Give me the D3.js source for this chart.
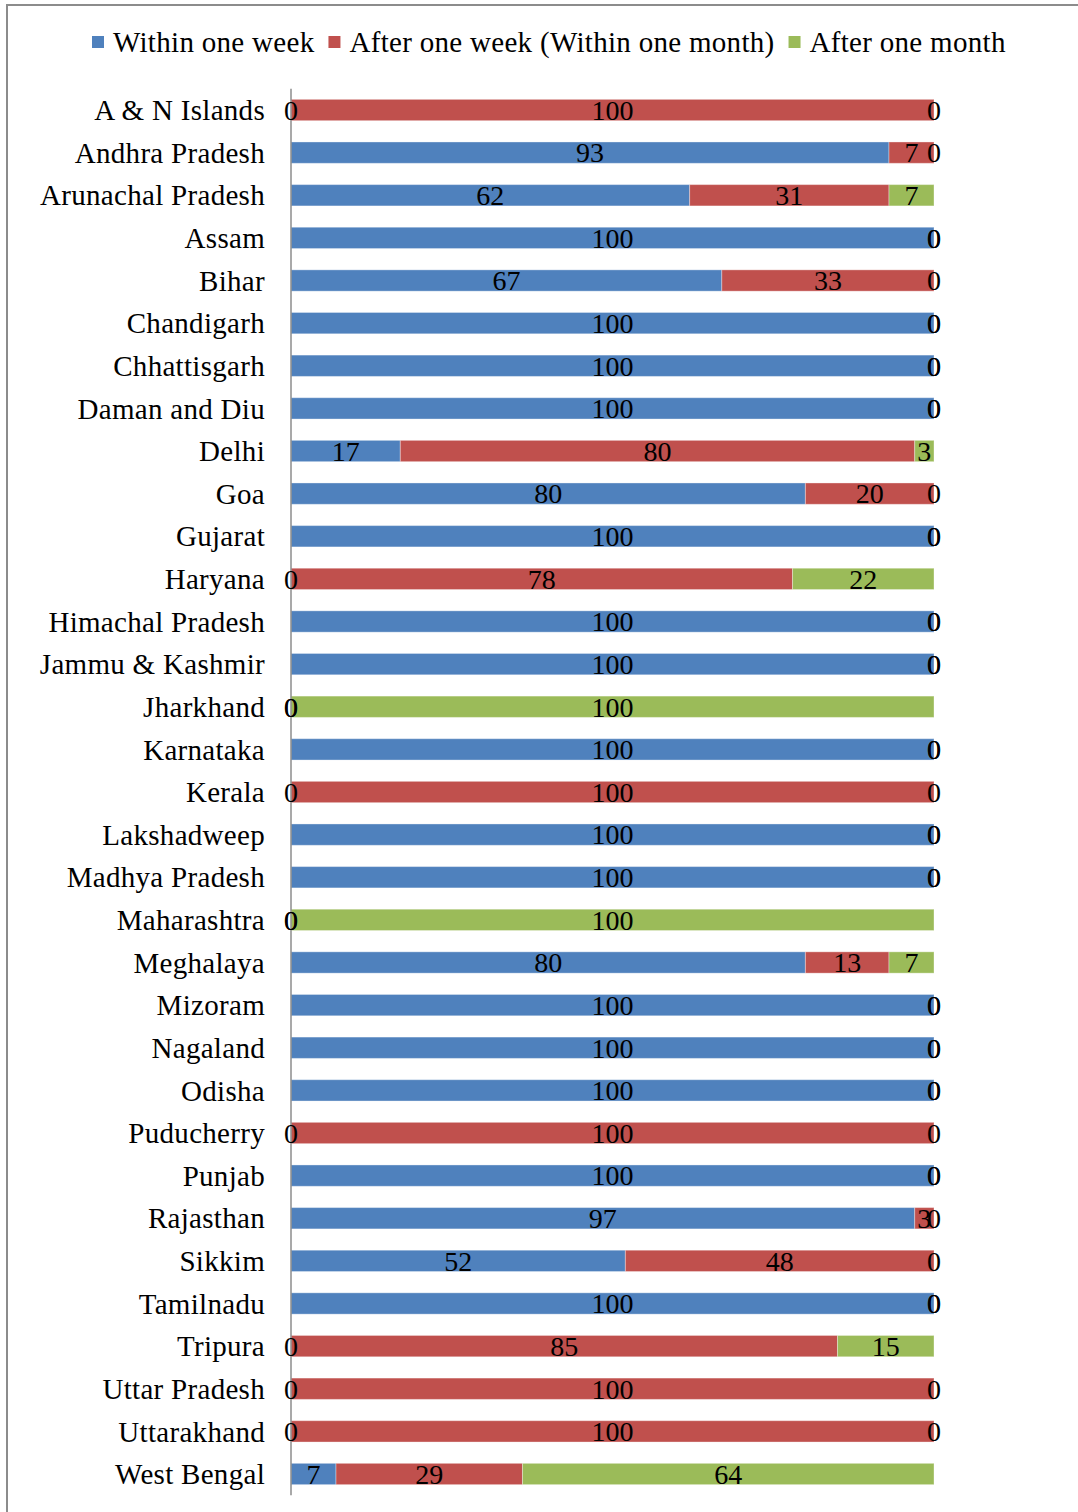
<!DOCTYPE html>
<html>
<head>
<meta charset="utf-8">
<script src="https://cdn.jsdelivr.net/npm/d3@7"></script>
<style>
  body { margin: 0; background: #fff; }
  svg text { font-family: "Liberation Serif", "Times New Roman", serif; fill: #000; }
</style>
</head>
<body>
<svg id="chart"></svg>
<script>
const states = ["A & N Islands", "Andhra Pradesh", "Arunachal Pradesh", "Assam", "Bihar",
  "Chandigarh", "Chhattisgarh", "Daman and Diu", "Delhi", "Goa", "Gujarat", "Haryana",
  "Himachal Pradesh", "Jammu & Kashmir", "Jharkhand", "Karnataka", "Kerala", "Lakshadweep",
  "Madhya Pradesh", "Maharashtra", "Meghalaya", "Mizoram", "Nagaland", "Odisha",
  "Puducherry", "Punjab", "Rajasthan", "Sikkim", "Tamilnadu", "Tripura", "Uttar Pradesh",
  "Uttarakhand", "West Bengal"]

const withinWeek  = [0, 93, 62, 100, 67, 100, 100, 100, 17, 80, 100, 0, 100, 100, 0, 100, 0, 100, 100, 0, 80, 100, 100, 100, 0, 100, 97, 52, 100, 0, 0, 0, 7]
const withinMonth = [100, 7, 31, 0, 33, 0, 0, 0, 80, 20, 0, 78, 0, 0, 0, 0, 100, 0, 0, 0, 13, 0, 0, 0, 100, 0, 3, 48, 0, 85, 100, 100, 29]
const afterMonth  = [0, 0, 7, 0, 0, 0, 0, 0, 3, 0, 0, 22, 0, 0, 100, 0, 0, 0, 0, 100, 7, 0, 0, 0, 0, 0, 0, 0, 0, 15, 0, 0, 64]

const seriesNames = ["Within one week", "After one week (Within one month)", "After one month"]
const seriesColors = ["#4F81BD", "#C0504D", "#9BBB59"]

const width = 1078, height = 1512
const svg = d3.select("#chart").attr("width", width).attr("height", height)

// outer frame
svg.append("rect")
  .attr("x", 7).attr("y", 5)
  .attr("width", 1100).attr("height", 1540)
  .attr("fill", "none").attr("stroke", "#8c8c8c").attr("stroke-width", 2)

const rows = states.map((s, i) => ({
  state: s,
  k0: withinWeek[i], k1: withinMonth[i], k2: afterMonth[i]
}))

const stack = d3.stack().keys(["k0", "k1", "k2"])
const layers = stack(rows)

const x = d3.scaleLinear().domain([0, 100]).range([291, 934])
const y = d3.scaleBand().domain(states).range([88.7, 1495.3]).paddingInner(0.5).paddingOuter(0.25)

const g = svg.append("g")

g.selectAll("g.layer")
  .data(layers)
  .join("g")
  .attr("class", "layer")
  .attr("fill", (d, i) => seriesColors[i])
  .selectAll("rect")
  .data(d => d)
  .join("rect")
  .attr("x", d => x(d[0]))
  .attr("y", d => y(d.data.state))
  .attr("width", d => x(d[1]) - x(d[0]))
  .attr("height", y.bandwidth())
  .attr("stroke", "rgba(255,255,255,0.35)")
  .attr("stroke-width", 1)

// axis line
g.append("line")
  .attr("x1", 291).attr("x2", 291)
  .attr("y1", 88.7).attr("y2", 1495.3)
  .attr("stroke", "#8c8c8c").attr("stroke-width", 1.5)

// category labels
g.selectAll("text.cat")
  .data(states)
  .join("text")
  .attr("class", "cat")
  .attr("x", 265)
  .attr("y", d => y(d) + y.bandwidth() / 2)
  .attr("dy", "0.35em")
  .attr("text-anchor", "end")
  .attr("font-size", 29)
  .attr("letter-spacing", 0.3)
  .text(d => d)

// value labels
layers.forEach(layer => {
  g.selectAll(null)
    .data(layer)
    .join("text")
    .attr("x", d => x((d[0] + d[1]) / 2))
    .attr("y", d => y(d.data.state) + y.bandwidth() / 2)
    .attr("dy", "0.35em")
    .attr("text-anchor", "middle")
    .attr("font-size", 28)
    .text(d => d[1] - d[0])
})

// legend
const legend = svg.append("g").attr("transform", "translate(92,42)")
let lx = 0
seriesNames.forEach((name, i) => {
  const item = legend.append("g").attr("transform", `translate(${lx},0)`)
  item.append("rect").attr("x", 0).attr("y", -6).attr("width", 12).attr("height", 12)
    .attr("fill", seriesColors[i])
  const t = item.append("text").attr("x", 21).attr("y", 0).attr("dy", "0.35em")
    .attr("font-size", 29).attr("letter-spacing", 0.3).text(name)
  lx += 21 + t.node().getComputedTextLength() + 14
})
</script>
</body>
</html>
